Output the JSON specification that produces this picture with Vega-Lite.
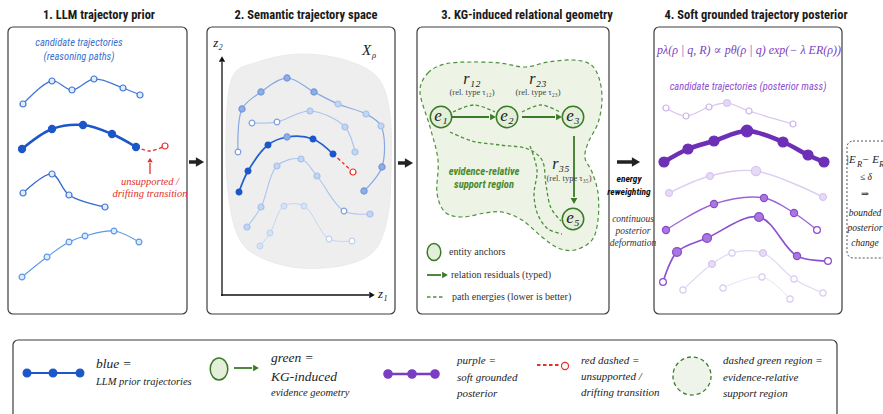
{
 "$schema": "https://vega.github.io/schema/vega-lite/v6.json",
 "width": 883, "height": 414,
 "autosize": {"type": "none"},
 "padding": 0,
 "background": "white",
 "config": {"view": {"stroke": null}},
 "datasets": {
  "boxes": [
   {"k":"p","x":8,"x2":187,"y":27,"y2":314},
   {"k":"p","x":207,"x2":395,"y":27,"y2":314},
   {"k":"p","x":417,"x2":609,"y":27,"y2":314},
   {"k":"p","x":654,"x2":842,"y":27,"y2":314},
   {"k":"p","x":13,"x2":837,"y":340,"y2":440},
   {"k":"dash","x":847,"x2":905,"y":141,"y2":258}
  ],
  "blobs": [
   {"b":"gray","i":1,"x":232,"y":78},{"b":"gray","i":2,"x":258,"y":62},{"b":"gray","i":3,"x":300,"y":54},{"b":"gray","i":4,"x":345,"y":60},{"b":"gray","i":5,"x":378,"y":78},{"b":"gray","i":6,"x":390,"y":115},{"b":"gray","i":7,"x":391,"y":170},{"b":"gray","i":8,"x":388,"y":215},{"b":"gray","i":9,"x":375,"y":250},{"b":"gray","i":10,"x":345,"y":265},{"b":"gray","i":11,"x":300,"y":268},{"b":"gray","i":12,"x":262,"y":258},{"b":"gray","i":13,"x":240,"y":240},{"b":"gray","i":14,"x":229,"y":200},{"b":"gray","i":15,"x":226,"y":140},
   {"b":"green","i":1,"x":420,"y":92},{"b":"green","i":2,"x":428,"y":73},{"b":"green","i":3,"x":445,"y":64},{"b":"green","i":4,"x":470,"y":62},{"b":"green","i":5,"x":500,"y":63},{"b":"green","i":6,"x":525,"y":67},{"b":"green","i":7,"x":548,"y":62},{"b":"green","i":8,"x":572,"y":60},{"b":"green","i":9,"x":590,"y":64},{"b":"green","i":10,"x":599,"y":78},{"b":"green","i":11,"x":602,"y":100},{"b":"green","i":12,"x":598,"y":123},{"b":"green","i":13,"x":588,"y":143},{"b":"green","i":14,"x":585,"y":158},{"b":"green","i":15,"x":592,"y":172},{"b":"green","i":16,"x":598,"y":193},{"b":"green","i":17,"x":598,"y":220},{"b":"green","i":18,"x":592,"y":240},{"b":"green","i":19,"x":575,"y":250},{"b":"green","i":20,"x":558,"y":248},{"b":"green","i":21,"x":542,"y":237},{"b":"green","i":22,"x":522,"y":220},{"b":"green","i":23,"x":502,"y":212},{"b":"green","i":24,"x":485,"y":213},{"b":"green","i":25,"x":462,"y":217},{"b":"green","i":26,"x":445,"y":212},{"b":"green","i":27,"x":437,"y":193},{"b":"green","i":28,"x":438,"y":160},{"b":"green","i":29,"x":430,"y":127}
  ],
  "dl": [
   {"s":"red1","i":1,"x":136,"y":147},{"s":"red1","i":2,"x":150,"y":151},{"s":"red1","i":3,"x":165,"y":146},
   {"s":"red2","i":1,"x":333,"y":154},{"s":"red2","i":2,"x":343,"y":163},{"s":"red2","i":3,"x":353,"y":172},
   {"s":"c1","i":1,"x":453,"y":112},{"s":"c1","i":2,"x":474,"y":105},{"s":"c1","i":3,"x":495,"y":112},
   {"s":"c2","i":1,"x":522,"y":112},{"s":"c2","i":2,"x":541,"y":105},{"s":"c2","i":3,"x":560,"y":112},
   {"s":"c3","i":1,"x":450,"y":132},{"s":"c3","i":2,"x":472,"y":141},{"s":"c3","i":3,"x":500,"y":145},{"s":"c3","i":4,"x":528,"y":149},{"s":"c3","i":5,"x":542,"y":160},{"s":"c3","i":6,"x":546,"y":185},{"s":"c3","i":7,"x":551,"y":208},{"s":"c3","i":8,"x":561,"y":221},
   {"s":"c4","i":1,"x":530,"y":146},{"s":"c4","i":2,"x":537,"y":170},{"s":"c4","i":3,"x":534,"y":195},{"s":"c4","i":4,"x":538,"y":215},{"s":"c4","i":5,"x":548,"y":229},{"s":"c4","i":6,"x":562,"y":234}
  ],
  "traj": [
   {"s":"b1a","i":1,"x":23,"y":104},{"s":"b1a","i":2,"x":52,"y":81},{"s":"b1a","i":3,"x":72,"y":90},{"s":"b1a","i":4,"x":94,"y":79},{"s":"b1a","i":5,"x":123,"y":88},{"s":"b1a","i":6,"x":140,"y":95},
   {"s":"b1b","i":1,"x":22,"y":149},{"s":"b1b","i":2,"x":52,"y":129},{"s":"b1b","i":3,"x":83,"y":125},{"s":"b1b","i":4,"x":112,"y":134},{"s":"b1b","i":5,"x":136,"y":147},
   {"s":"b1c","i":1,"x":23,"y":193},{"s":"b1c","i":2,"x":52,"y":174},{"s":"b1c","i":3,"x":69,"y":195},{"s":"b1c","i":4,"x":105,"y":207},
   {"s":"b1d","i":1,"x":22,"y":277},{"s":"b1d","i":2,"x":47,"y":257},{"s":"b1d","i":3,"x":69,"y":242},{"s":"b1d","i":4,"x":85,"y":236},{"s":"b1d","i":5,"x":114,"y":231},{"s":"b1d","i":6,"x":139,"y":242},
   {"s":"b2a","i":1,"x":238,"y":152},{"s":"b2a","i":2,"x":242,"y":109},{"s":"b2a","i":3,"x":261,"y":92},{"s":"b2a","i":4,"x":287,"y":78},{"s":"b2a","i":5,"x":314,"y":92},{"s":"b2a","i":6,"x":338,"y":104},{"s":"b2a","i":7,"x":366,"y":114},{"s":"b2a","i":8,"x":381,"y":126},{"s":"b2a","i":9,"x":382,"y":167},{"s":"b2a","i":10,"x":364,"y":191},
   {"s":"b2b","i":1,"x":252,"y":123},{"s":"b2b","i":2,"x":277,"y":122},{"s":"b2b","i":3,"x":310,"y":111},{"s":"b2b","i":4,"x":345,"y":127},{"s":"b2b","i":5,"x":355,"y":152},
   {"s":"b2c","i":1,"x":239,"y":192},{"s":"b2c","i":2,"x":248,"y":171},{"s":"b2c","i":3,"x":268,"y":145},{"s":"b2c","i":4,"x":287,"y":137},{"s":"b2c","i":5,"x":313,"y":139},{"s":"b2c","i":6,"x":333,"y":154},
   {"s":"b2d","i":1,"x":247,"y":227},{"s":"b2d","i":2,"x":261,"y":207},{"s":"b2d","i":3,"x":277,"y":166},{"s":"b2d","i":4,"x":301,"y":159},{"s":"b2d","i":5,"x":317,"y":176},{"s":"b2d","i":6,"x":344,"y":211},{"s":"b2d","i":7,"x":370,"y":214},
   {"s":"b2e","i":1,"x":260,"y":246},{"s":"b2e","i":2,"x":270,"y":233},{"s":"b2e","i":3,"x":284,"y":206},{"s":"b2e","i":4,"x":304,"y":206},{"s":"b2e","i":5,"x":329,"y":239},{"s":"b2e","i":6,"x":352,"y":241},
   {"s":"p1","i":1,"x":666,"y":108},{"s":"p1","i":2,"x":686,"y":116},{"s":"p1","i":3,"x":709,"y":107},{"s":"p1","i":4,"x":727,"y":103},{"s":"p1","i":5,"x":749,"y":111},{"s":"p1","i":6,"x":793,"y":124},
   {"s":"p2","i":1,"x":664,"y":162},{"s":"p2","i":2,"x":688,"y":149},{"s":"p2","i":3,"x":714,"y":141},{"s":"p2","i":4,"x":747,"y":131},{"s":"p2","i":5,"x":783,"y":142},{"s":"p2","i":6,"x":808,"y":155},{"s":"p2","i":7,"x":824,"y":162},
   {"s":"p3","i":1,"x":669,"y":193},{"s":"p3","i":2,"x":710,"y":176},{"s":"p3","i":3,"x":756,"y":171},{"s":"p3","i":4,"x":823,"y":197},
   {"s":"p4","i":1,"x":666,"y":230},{"s":"p4","i":2,"x":714,"y":204},{"s":"p4","i":3,"x":764,"y":198},{"s":"p4","i":4,"x":794,"y":213},{"s":"p4","i":5,"x":817,"y":230},
   {"s":"p5","i":1,"x":663,"y":282},{"s":"p5","i":2,"x":677,"y":252},{"s":"p5","i":3,"x":707,"y":238},{"s":"p5","i":4,"x":759,"y":217},{"s":"p5","i":5,"x":797,"y":256},{"s":"p5","i":6,"x":828,"y":261},
   {"s":"p6","i":1,"x":683,"y":290},{"s":"p6","i":2,"x":712,"y":264},{"s":"p6","i":3,"x":732,"y":253},{"s":"p6","i":4,"x":763,"y":253},{"s":"p6","i":5,"x":794,"y":279},{"s":"p6","i":6,"x":823,"y":293},
   {"s":"p7","i":1,"x":723,"y":288},{"s":"p7","i":2,"x":762,"y":277},{"s":"p7","i":3,"x":790,"y":299},
   {"s":"lb","i":1,"x":27,"y":373},{"s":"lb","i":2,"x":80,"y":373},
   {"s":"lp","i":1,"x":388,"y":374},{"s":"lp","i":2,"x":435,"y":374}
  ],
  "segs": [
   {"s":"bk","x":189,"y":162,"x2":197,"y2":162},{"s":"bk","x":398,"y":163,"x2":406,"y2":163},{"s":"bk","x":617,"y":162,"x2":632,"y2":162},
   {"s":"ax","x":222,"y":296,"x2":222,"y2":62},{"s":"ax","x":221,"y":295,"x2":369,"y2":295},
   {"s":"rd","x":150,"y":174,"x2":150,"y2":163},
   {"s":"gr","x":452,"y":117,"x2":489,"y2":117},{"s":"gr","x":522,"y":117,"x2":555,"y2":117},{"s":"gr","x":574,"y":136,"x2":574,"y2":197},{"s":"gr","x":427,"y":275,"x2":441,"y2":275},{"s":"gr","x":234,"y":368,"x2":252,"y2":368}
  ],
  "dsegs": [
   {"s":"gd","x":427,"y":297,"x2":445,"y2":297},
   {"s":"rl","x":537,"y":365,"x2":559,"y2":365}
  ],
  "heads": [
   {"h":"bkR","x":200,"y":162},{"h":"bkR","x":409,"y":163},{"h":"bkR","x":636,"y":162},
   {"h":"aU","x":222,"y":59},{"h":"aR","x":372,"y":295},
   {"h":"rU","x":150,"y":160},
   {"h":"gR","x":493,"y":117},{"h":"gR","x":559,"y":117},{"h":"gR","x":445,"y":275},{"h":"gR","x":256,"y":368},
   {"h":"gD","x":574,"y":201}
  ],
  "nodes": [
   {"n":"nd","x":441,"y":117},{"n":"nd","x":507,"y":117},{"n":"nd","x":573,"y":117},{"n":"nd","x":573,"y":219},
   {"n":"e3","x":434,"y":252},{"n":"e4","x":219,"y":369}
  ],
  "ring": [{"x":692,"y":376}],
  "dots": [
   {"d":"bO","x":23,"y":104},{"d":"bO","x":52,"y":81},{"d":"bO","x":72,"y":90},{"d":"bO","x":94,"y":79},{"d":"bO","x":123,"y":88},{"d":"bO","x":140,"y":95},
   {"d":"bD","x":22,"y":149},{"d":"bD","x":52,"y":129},{"d":"bD","x":83,"y":125},{"d":"bD","x":112,"y":134},{"d":"bD","x":136,"y":147},
   {"d":"rO","x":165,"y":146},
   {"d":"bO","x":23,"y":193},{"d":"bO","x":52,"y":174},{"d":"bO","x":69,"y":195},{"d":"bO","x":105,"y":207},
   {"d":"bOL","x":22,"y":277},{"d":"bOL","x":47,"y":257},{"d":"bOL","x":69,"y":242},{"d":"bOL","x":85,"y":236},{"d":"bOL","x":114,"y":231},{"d":"bOL","x":139,"y":242},
   {"d":"b2O","x":238,"y":152},{"d":"b2M","x":242,"y":109},{"d":"b2M","x":261,"y":92},{"d":"b2M","x":287,"y":78},{"d":"b2M","x":314,"y":92},{"d":"b2L","x":338,"y":104},{"d":"b2L","x":366,"y":114},{"d":"b2L","x":381,"y":126},{"d":"b2M","x":382,"y":167},{"d":"b2M","x":364,"y":191},
   {"d":"b2O","x":252,"y":123},{"d":"b2O","x":277,"y":122},{"d":"b2L","x":310,"y":111},{"d":"b2L","x":345,"y":127},{"d":"b2L","x":355,"y":152},
   {"d":"b2D","x":239,"y":192},{"d":"b2D","x":248,"y":171},{"d":"b2D","x":268,"y":145},{"d":"b2M","x":287,"y":137},{"d":"b2D","x":313,"y":139},{"d":"b2D","x":333,"y":154},
   {"d":"rO","x":353,"y":172},
   {"d":"b2L","x":247,"y":227},{"d":"b2L","x":261,"y":207},{"d":"b2L","x":277,"y":166},{"d":"b2L","x":301,"y":159},{"d":"b2L","x":317,"y":176},{"d":"b2O","x":344,"y":211},{"d":"b2L","x":370,"y":214},
   {"d":"b2LL","x":260,"y":246},{"d":"b2LL","x":270,"y":233},{"d":"b2LL","x":284,"y":206},{"d":"b2LL","x":304,"y":206},{"d":"b2OL","x":329,"y":239},{"d":"b2OL","x":352,"y":241},
   {"d":"pO","x":666,"y":108},{"d":"pO","x":686,"y":116},{"d":"pO","x":709,"y":107},{"d":"pLL","x":727,"y":103},{"d":"pO","x":749,"y":111},{"d":"pO","x":793,"y":124},
   {"d":"pD","x":664,"y":162},{"d":"pD","x":688,"y":149},{"d":"pD","x":714,"y":141},{"d":"pDb","x":747,"y":131},{"d":"pD","x":783,"y":142},{"d":"pD","x":808,"y":155},{"d":"pD","x":824,"y":162},
   {"d":"pL","x":669,"y":193},{"d":"pL","x":710,"y":176},{"d":"pLb","x":756,"y":171},{"d":"pL","x":823,"y":197},
   {"d":"pM","x":666,"y":230},{"d":"pM","x":714,"y":204},{"d":"pM","x":764,"y":198},{"d":"pM","x":794,"y":213},{"d":"pMO","x":817,"y":230},
   {"d":"pMO","x":663,"y":282},{"d":"pMb","x":677,"y":252},{"d":"pMb","x":707,"y":238},{"d":"pMb","x":759,"y":217},{"d":"pM","x":797,"y":256},{"d":"pMO","x":828,"y":261},
   {"d":"pLO","x":683,"y":290},{"d":"pL","x":712,"y":264},{"d":"pLO","x":732,"y":253},{"d":"pL","x":763,"y":253},{"d":"pLO","x":794,"y":279},{"d":"pLO","x":823,"y":293},
   {"d":"pLO","x":723,"y":288},{"d":"pLO","x":762,"y":277},{"d":"pLO","x":790,"y":299},
   {"d":"lgB","x":27,"y":373},{"d":"lgB","x":53,"y":373},{"d":"lgB","x":80,"y":373},
   {"d":"lgP","x":388,"y":374},{"d":"lgP","x":412,"y":374},{"d":"lgP","x":435,"y":374},
   {"d":"lgR","x":565,"y":366}
  ],
  "txt": [
   {"t":"1. LLM trajectory prior","x":99,"y":15,"r":"title"},
   {"t":"2. Semantic trajectory space","x":306,"y":15,"r":"title"},
   {"t":"3. KG-induced relational geometry","x":527,"y":15,"r":"title"},
   {"t":"4. Soft grounded trajectory posterior","x":756,"y":15,"r":"title"},
   {"t":"evidence-relative","x":484,"y":172,"r":"region"},
   {"t":"support region","x":484,"y":185,"r":"region"},
   {"t":"energy","x":629,"y":179,"r":"energy"},
   {"t":"reweighting","x":629,"y":192,"r":"energy"},
   {"t":"candidate trajectories","x":79,"y":43,"r":"cand1"},
   {"t":"(reasoning paths)","x":79,"y":57,"r":"cand1"},
   {"t":"candidate trajectories (posterior mass)","x":748,"y":87,"r":"cand4"},
   {"t":"unsupported /","x":150,"y":182,"r":"red"},
   {"t":"drifting transition","x":150,"y":194,"r":"red"},
   {"t":"continuous","x":633,"y":219,"r":"contin"},
   {"t":"posterior","x":633,"y":231,"r":"contin"},
   {"t":"deformation","x":633,"y":243,"r":"contin"},
   {"t":"≤ δ","x":866,"y":177,"r":"bound"},
   {"t":"⇒","x":865,"y":194,"r":"bound"},
   {"t":"bounded","x":865,"y":213,"r":"bound"},
   {"t":"posterior","x":865,"y":228,"r":"bound"},
   {"t":"change","x":865,"y":243,"r":"bound"},
   {"t":"e₁","x":441,"y":116,"r":"node"},
   {"t":"e₂","x":507,"y":116,"r":"node"},
   {"t":"e₃","x":573,"y":116,"r":"node"},
   {"t":"e₅","x":573,"y":218,"r":"node"},
   {"t":"r₁₂","x":472,"y":79,"r":"rlab"},
   {"t":"r₂₃","x":538,"y":79,"r":"rlab"},
   {"t":"r₃₅","x":561,"y":164,"r":"rlab"},
   {"t":"pλ(ρ | q, R) ∝ pθ(ρ | q) exp(− λ ER(ρ))","x":749,"y":50,"r":"formula"},
   {"t":"z₂","x":218,"y":43,"r":"zc"},
   {"t":"z₁","x":378,"y":294,"r":"zl"},
   {"t":"X","x":362,"y":50,"r":"X"},
   {"t":"|E","x":846,"y":160,"r":"bm"},
   {"t":"− E","x":862,"y":160,"r":"bm"},
   {"t":"blue =","x":96,"y":364,"r":"lhead"},
   {"t":"LLM prior trajectories","x":96,"y":382,"r":"lsub"},
   {"t":"green =","x":271,"y":358,"r":"lhead"},
   {"t":"KG-induced","x":271,"y":377,"r":"lhead"},
   {"t":"evidence geometry","x":271,"y":393,"r":"lsub"},
   {"t":"purple =","x":457,"y":361,"r":"lmid"},
   {"t":"soft grounded","x":457,"y":378,"r":"lmid"},
   {"t":"posterior","x":457,"y":394,"r":"lmid"},
   {"t":"red dashed =","x":581,"y":361,"r":"lmid"},
   {"t":"unsupported /","x":581,"y":377,"r":"lmid"},
   {"t":"drifting transition","x":581,"y":393,"r":"lmid"},
   {"t":"dashed green region =","x":723,"y":361,"r":"lmid"},
   {"t":"evidence-relative","x":723,"y":378,"r":"lmid"},
   {"t":"support region","x":723,"y":394,"r":"lmid"},
   {"t":"ρ","x":372,"y":55,"r":"sub"},
   {"t":"R","x":857,"y":164,"r":"sub"},
   {"t":"R","x":879,"y":164,"r":"sub"},
   {"t":"(rel. type τ₁₂)","x":472,"y":92,"r":"reltype"},
   {"t":"(rel. type τ₂₃)","x":538,"y":92,"r":"reltype"},
   {"t":"(rel. type τ₃₅)","x":569,"y":178,"r":"reltype"},
   {"t":"entity anchors","x":449,"y":252,"r":"kg"},
   {"t":"relation residuals (typed)","x":451,"y":275,"r":"kg"},
   {"t":"path energies (lower is better)","x":452,"y":297,"r":"kg"}
  ]
 },
 "encoding": {
  "x": {"field": "x", "type": "quantitative", "scale": {"domain": [0, 883], "nice": false, "zero": false}, "axis": null},
  "y": {"field": "y", "type": "quantitative", "scale": {"domain": [0, 414], "nice": false, "zero": false, "reverse": true}, "axis": null}
 },
 "layer": [
  {"data": {"name": "boxes"}, "transform": [{"filter": "datum.k == 'p'"}],
   "mark": {"type": "rect", "fill": "#ffffff", "stroke": "#3c3c3c", "strokeWidth": 1.2, "cornerRadius": 5},
   "encoding": {"x2": {"field": "x2"}, "y2": {"field": "y2"}}},
  {"data": {"name": "boxes"}, "transform": [{"filter": "datum.k == 'dash'"}],
   "mark": {"type": "rect", "fill": "#ffffff", "fillOpacity": 0, "stroke": "#555555", "strokeWidth": 1, "strokeDash": [2, 2], "cornerRadius": 6},
   "encoding": {"x2": {"field": "x2"}, "y2": {"field": "y2"}}},
  {"data": {"name": "blobs"}, "transform": [{"filter": "datum.b == 'gray'"}],
   "mark": {"type": "line", "interpolate": "cardinal-closed", "fill": "#eeeeee", "stroke": "#ebebeb", "strokeWidth": 1},
   "encoding": {"order": {"field": "i", "type": "quantitative"}}},
  {"data": {"name": "blobs"}, "transform": [{"filter": "datum.b == 'green'"}],
   "mark": {"type": "line", "interpolate": "cardinal-closed", "fill": "#edf4e5", "stroke": "#4f8f3f", "strokeWidth": 1.2, "strokeDash": [4, 3]},
   "encoding": {"order": {"field": "i", "type": "quantitative"}}},
  {"data": {"name": "dl"},
   "mark": {"type": "line", "interpolate": "catmull-rom", "strokeDash": [3.5, 2.5], "strokeWidth": 1.3},
   "encoding": {"order": {"field": "i", "type": "quantitative"},
    "color": {"field": "s", "type": "nominal", "legend": null, "scale": {"domain": ["red1","red2","c1","c2","c3","c4"], "range": ["#e2302a","#e2302a","#4f8f3f","#4f8f3f","#4f8f3f","#4f8f3f"]}}}},
  {"data": {"name": "traj"},
   "mark": {"type": "line", "interpolate": "catmull-rom", "strokeCap": "round"},
   "encoding": {"order": {"field": "i", "type": "quantitative"},
    "color": {"field": "s", "type": "nominal", "legend": null, "scale": {"domain": ["b1a","b1b","b1c","b1d","b2a","b2b","b2c","b2d","b2e","p1","p2","p3","p4","p5","p6","p7","lb","lp"], "range": ["#4479d8","#1d56c8","#336bd2","#5d97e6","#86a8e2","#a9c3ee","#2160cf","#adc6ef","#c3d6f4","#d7c5ef","#6c2fb5","#ddcdf1","#9d61d9","#8c4fcf","#e2d6f4","#e9e0f7","#1d56c8","#7a3ec4"]}},
    "strokeWidth": {"field": "s", "type": "nominal", "legend": null, "scale": {"type": "ordinal", "domain": ["b1a","b1b","b1c","b1d","b2a","b2b","b2c","b2d","b2e","p1","p2","p3","p4","p5","p6","p7","lb","lp"], "range": [1.3,2.6,1.3,1.1,1.2,1.1,1.7,1.1,1.0,1.2,4.5,1.4,1.4,1.7,1.1,1.0,2,2.5]}}}},
  {"data": {"name": "segs"},
   "mark": {"type": "rule"},
   "encoding": {"x2": {"field": "x2"}, "y2": {"field": "y2"},
    "color": {"field": "s", "type": "nominal", "legend": null, "scale": {"domain": ["bk","ax","rd","gr"], "range": ["#222222","#111111","#e2302a","#3b7a27"]}},
    "strokeWidth": {"field": "s", "type": "nominal", "legend": null, "scale": {"type": "ordinal", "domain": ["bk","ax","rd","gr"], "range": [3.5,1.3,1.3,1.8]}}}},
  {"data": {"name": "dsegs"},
   "mark": {"type": "rule", "strokeDash": [3.5, 2.5]},
   "encoding": {"x2": {"field": "x2"}, "y2": {"field": "y2"},
    "color": {"field": "s", "type": "nominal", "legend": null, "scale": {"domain": ["gd","rl"], "range": ["#4f8f3f","#e2302a"]}},
    "strokeWidth": {"field": "s", "type": "nominal", "legend": null, "scale": {"type": "ordinal", "domain": ["gd","rl"], "range": [1.3,1.8]}}}},
  {"data": {"name": "heads"},
   "mark": {"type": "point", "filled": true, "opacity": 1, "strokeWidth": 0},
   "encoding": {
    "shape": {"field": "h", "type": "nominal", "legend": null, "scale": {"domain": ["bkR","aU","aR","rU","gR","gD"], "range": ["triangle-right","triangle-up","triangle-right","triangle-up","triangle-right","triangle-down"]}},
    "fill": {"field": "h", "type": "nominal", "legend": null, "scale": {"domain": ["bkR","aU","aR","rU","gR","gD"], "range": ["#222222","#111111","#111111","#e2302a","#3b7a27","#3b7a27"]}},
    "size": {"field": "h", "type": "nominal", "legend": null, "scale": {"type": "ordinal", "domain": ["bkR","aU","aR","rU","gR","gD"], "range": [90,40,40,28,45,45]}}}},
  {"data": {"name": "nodes"},
   "mark": {"type": "point", "filled": true, "opacity": 1, "fill": "#e3efd9", "stroke": "#3a7a2a", "strokeWidth": 1.5},
   "encoding": {
    "shape": {"field": "n", "type": "nominal", "legend": null, "scale": {"domain": ["nd","e3","e4"], "range": ["circle","M-0.8,0A0.8,1,0,1,1,0.8,0A0.8,1,0,1,1,-0.8,0Z","M-0.8,0A0.8,1,0,1,1,0.8,0A0.8,1,0,1,1,-0.8,0Z"]}},
    "size": {"field": "n", "type": "nominal", "legend": null, "scale": {"type": "ordinal", "domain": ["nd","e3","e4"], "range": [460,289,484]}}}},
  {"data": {"name": "ring"},
   "mark": {"type": "point", "shape": "circle", "filled": true, "opacity": 1, "size": 1450, "fill": "#eef4ea", "stroke": "#3d7d2c", "strokeWidth": 1.3, "strokeDash": [4, 3]}},
  {"data": {"name": "dots"},
   "mark": {"type": "point", "shape": "circle", "filled": true, "opacity": 1, "strokeWidth": 1.2},
   "encoding": {
    "fill": {"field": "d", "type": "nominal", "legend": null, "scale": {"domain": ["bD","bO","bOL","rO","b2D","b2M","b2L","b2LL","b2O","b2OL","pO","pLL","pD","pDb","pL","pLb","pLO","pM","pMb","pMO","lgB","lgP","lgR"], "range": ["#1d56c8","#e2ecfb","#deebfb","#ffffff","#1d56c8","#8eaee5","#c2d5f3","#d5e3f7","#ffffff","#ffffff","#ffffff","#e4d9f5","#6c2fb5","#6c2fb5","#e6dbf6","#e6dbf6","#ffffff","#a878de","#a878de","#ffffff","#1d56c8","#7a3ec4","#ffffff"]}},
    "stroke": {"field": "d", "type": "nominal", "legend": null, "scale": {"domain": ["bD","bO","bOL","rO","b2D","b2M","b2L","b2LL","b2O","b2OL","pO","pLL","pD","pDb","pL","pLb","pLO","pM","pMb","pMO","lgB","lgP","lgR"], "range": ["#1d56c8","#3f78d6","#5d97e6","#e2302a","#1d56c8","#7096da","#a6c0ec","#c0d4f3","#7f9fdc","#bcd0f1","#c9b2e9","#d7c7f0","#6c2fb5","#6c2fb5","#d6c5ef","#d6c5ef","#d9c9f0","#8a4ccd","#8a4ccd","#8a4ccd","#1d56c8","#7a3ec4","#e2302a"]}},
    "size": {"field": "d", "type": "nominal", "legend": null, "scale": {"type": "ordinal", "domain": ["bD","bO","bOL","rO","b2D","b2M","b2L","b2LL","b2O","b2OL","pO","pLL","pD","pDb","pL","pLb","pLO","pM","pMb","pMO","lgB","lgP","lgR"], "range": [50,36,34,36,34,38,36,34,32,32,36,44,100,135,48,85,40,52,80,46,60,70,50]}}}},
  {"data": {"name": "txt"}, "transform": [{"filter": {"field": "r", "oneOf": ["title"]}}],
   "mark": {"type": "text", "font": "Liberation Sans Narrow, Roboto Condensed, Roboto, sans-serif", "fontWeight": "bold", "align": "center", "baseline": "middle", "fontSize": 12.5, "color": "#1a1a1a"},
   "encoding": {"text": {"field": "t", "type": "nominal"}}},
  {"data": {"name": "txt"}, "transform": [{"filter": {"field": "r", "oneOf": ["region","energy"]}}],
   "mark": {"type": "text", "font": "Liberation Sans Narrow, Roboto Condensed, Roboto, sans-serif", "fontWeight": "bold", "fontStyle": "italic", "align": "center", "baseline": "middle"},
   "encoding": {"text": {"field": "t", "type": "nominal"},
    "color": {"field": "r", "type": "nominal", "legend": null, "scale": {"domain": ["region","energy"], "range": ["#4b8a2e","#111111"]}},
    "size": {"field": "r", "type": "nominal", "legend": null, "scale": {"type": "ordinal", "domain": ["region","energy"], "range": [10.5,9.5]}}}},
  {"data": {"name": "txt"}, "transform": [{"filter": {"field": "r", "oneOf": ["cand1","cand4"]}}],
   "mark": {"type": "text", "font": "Liberation Sans Narrow, Roboto Condensed, Roboto, sans-serif", "fontStyle": "italic", "align": "center", "baseline": "middle", "fontSize": 10.5},
   "encoding": {"text": {"field": "t", "type": "nominal"},
    "color": {"field": "r", "type": "nominal", "legend": null, "scale": {"domain": ["cand1","cand4"], "range": ["#3a72cc","#8b50cf"]}}}},
  {"data": {"name": "txt"}, "transform": [{"filter": {"field": "r", "oneOf": ["red","contin","bound","node","rlab","formula","zc"]}}],
   "mark": {"type": "text", "font": "Liberation Serif, DejaVu Serif, serif", "fontStyle": "italic", "align": "center", "baseline": "middle"},
   "encoding": {"text": {"field": "t", "type": "nominal"},
    "color": {"field": "r", "type": "nominal", "legend": null, "scale": {"domain": ["red","contin","bound","node","rlab","formula","zc"], "range": ["#e2302a","#333333","#222222","#222222","#222222","#7b3fbf","#111111"]}},
    "size": {"field": "r", "type": "nominal", "legend": null, "scale": {"type": "ordinal", "domain": ["red","contin","bound","node","rlab","formula","zc"], "range": [10.5,9.5,9.5,17,16,12,13]}}}},
  {"data": {"name": "txt"}, "transform": [{"filter": {"field": "r", "oneOf": ["lhead","lsub","lmid","zl","X","bm","sub"]}}],
   "mark": {"type": "text", "font": "Liberation Serif, DejaVu Serif, serif", "fontStyle": "italic", "align": "left", "baseline": "middle"},
   "encoding": {"text": {"field": "t", "type": "nominal"},
    "color": {"field": "r", "type": "nominal", "legend": null, "scale": {"domain": ["lhead","lsub","lmid","zl","X","bm","sub"], "range": ["#222222","#222222","#222222","#111111","#222222","#222222","#222222"]}},
    "size": {"field": "r", "type": "nominal", "legend": null, "scale": {"type": "ordinal", "domain": ["lhead","lsub","lmid","zl","X","bm","sub"], "range": [13.5,10.5,11,13,15,11,8.5]}}}},
  {"data": {"name": "txt"}, "transform": [{"filter": {"field": "r", "oneOf": ["reltype"]}}],
   "mark": {"type": "text", "font": "Liberation Serif, DejaVu Serif, serif", "align": "center", "baseline": "middle", "fontSize": 8.5, "color": "#444444"},
   "encoding": {"text": {"field": "t", "type": "nominal"}}},
  {"data": {"name": "txt"}, "transform": [{"filter": {"field": "r", "oneOf": ["kg"]}}],
   "mark": {"type": "text", "font": "Liberation Serif, DejaVu Serif, serif", "align": "left", "baseline": "middle", "fontSize": 10, "color": "#333333"},
   "encoding": {"text": {"field": "t", "type": "nominal"}}}
 ],
 "resolve": {"scale": {"color": "independent", "fill": "independent", "stroke": "independent", "size": "independent", "shape": "independent", "strokeWidth": "independent"}}
}
